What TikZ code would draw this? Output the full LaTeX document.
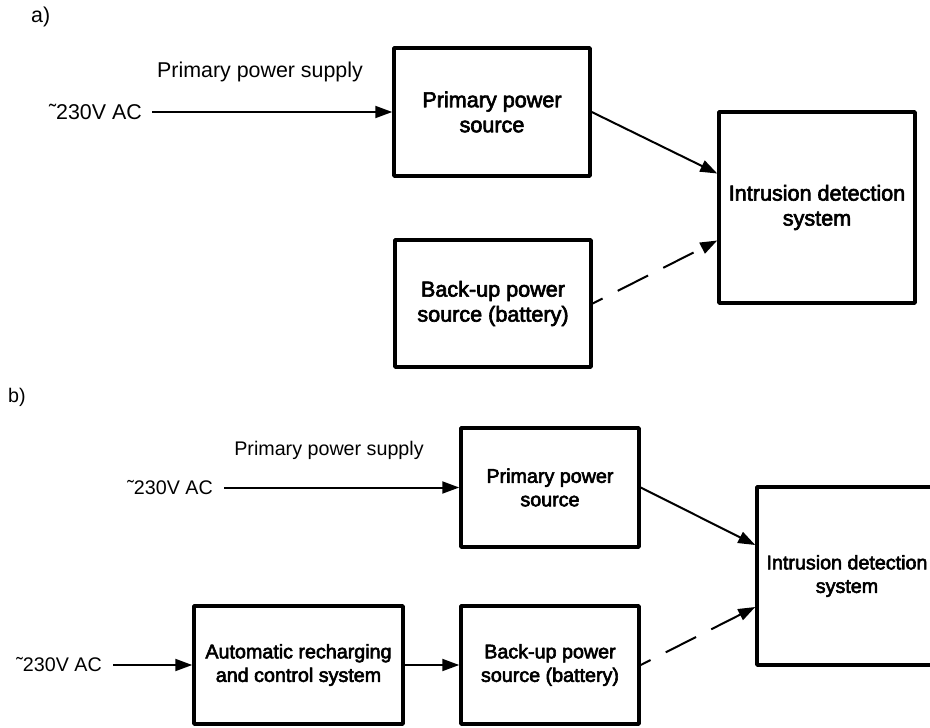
\documentclass[tikz,border=0pt]{standalone}
\usepackage{fontspec}
\setmainfont{Liberation Sans}
\font\bxa="Liberation Sans:embolden=3" at 21.6pt
\font\bxb="Liberation Sans:embolden=3" at 19.7pt
\usetikzlibrary{arrows.meta}
\tikzset{
  blk/.style={draw=black, line width=3.5pt, line join=round, rectangle, inner sep=0pt, align=center,
     font={\bxa\baselineskip=25pt\relax}},
  blkb/.style={blk, font={\bxb\baselineskip=23.5pt\relax}},
  lbl/.style={inner sep=0pt, font=\fontsize{21.4}{25}\selectfont},
  lblb/.style={inner sep=0pt, font=\fontsize{19.7}{23}\selectfont},
  conn/.style={line width=2pt, -{Triangle[length=17pt,width=12pt]}},
  dconn/.style={conn, dash pattern=on 34pt off 17pt, dash phase=23pt},
}
\begin{document}
\begin{tikzpicture}[x=1pt,y=-1pt]
\useasboundingbox (0,0) rectangle (930,728);
% part a
\node[lbl, anchor=west] (la) at (31,17) {a)};
\node[lbl] (ppsa) at (260,72) {Primary power supply};
\node[lbl, anchor=east] (aca) at (142,112) {\char"02DC 230V AC};
\node[blk, minimum width=196pt, minimum height=128pt] (pa) at (492,112) {Primary power\\source};
\node[blk, minimum width=196pt, minimum height=127pt] (ba) at (493,303.5) {Back-up power\\source (battery)};
\node[blk, minimum width=196pt, minimum height=191pt] (ia) at (817,207.5) {Intrusion detection\\system};
\draw[conn] ([xshift=10pt]aca.east) -- (pa.west);
\draw[conn] (pa.east) -- ([yshift=34pt]ia.west);
\draw[dconn] (ba.east) -- ([yshift=-33pt]ia.west);
% part b
\node[lblb, anchor=west] (lb) at (8,397) {b)};
\node[lblb] (ppsb) at (329,450) {Primary power supply};
\node[lblb, anchor=east] (acb1) at (213,487.5) {\char"02DC 230V AC};
\node[lblb, anchor=east] (acb2) at (102,665) {\char"02DC 230V AC};
\node[blkb, minimum width=178pt, minimum height=119pt] (pb) at (550,487.5) {Primary power\\source};
\node[blkb, minimum width=178pt, minimum height=118pt] (bb) at (550,665) {Back-up power\\source (battery)};
\node[blkb, minimum width=209pt, minimum height=118pt] (ab) at (298.5,665) {Automatic recharging\\and control system};
\node[blkb, minimum width=180pt, minimum height=178pt] (ib) at (847,576) {Intrusion detection\\system};
\draw[conn] ([xshift=11pt]acb1.east) -- (pb.west);
\draw[conn] ([xshift=11pt]acb2.east) -- (ab.west);
\draw[conn] (ab.east) -- (bb.west);
\draw[conn] (pb.east) -- ([yshift=31pt]ib.west);
\draw[dconn] (bb.east) -- ([yshift=-31pt]ib.west);
\end{tikzpicture}
\end{document}
